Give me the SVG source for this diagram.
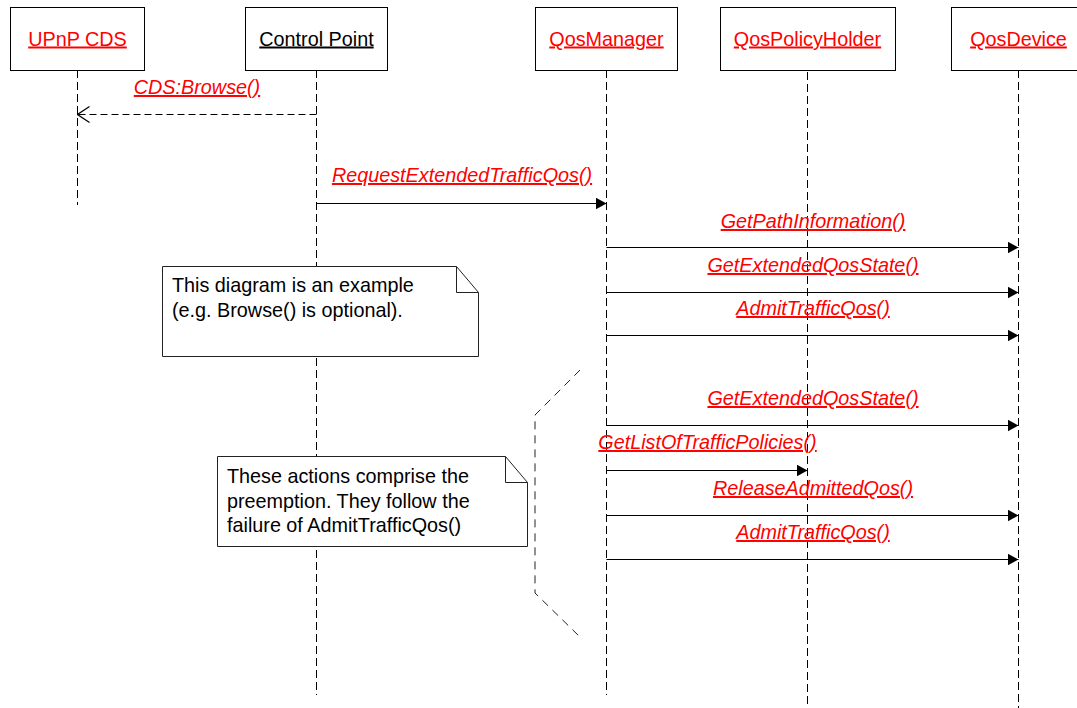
<svg xmlns="http://www.w3.org/2000/svg" width="1077" height="708" viewBox="0 0 1077 708">
<style>
.box{fill:#fff;stroke:#000;stroke-width:1}
.lbl{font-family:"Liberation Sans",Arial,sans-serif;font-size:19.8px;text-anchor:middle;text-decoration:underline}
.red{fill:#ff0000}
.blk{fill:#000}
.msg{font-family:"Liberation Sans",Arial,sans-serif;font-size:19.8px;font-style:italic;text-anchor:middle;text-decoration:underline;fill:#ff0000}
.life{stroke:#000;stroke-width:1;stroke-dasharray:8,4;fill:none}
.call{stroke:#000;stroke-width:1;fill:none;marker-end:url(#filled)}
.reply{stroke:#000;stroke-width:1;fill:none;stroke-dasharray:7,4;marker-end:url(#open)}
.note{fill:#fff;stroke:#222;stroke-width:1}
.fold{fill:none;stroke:#222;stroke-width:1}
.ntxt{font-family:"Liberation Sans",Arial,sans-serif;font-size:19.8px;fill:#000}
.brk{fill:none;stroke:#222;stroke-width:1;stroke-dasharray:8,6}
</style>
<defs>
<marker id="filled" markerUnits="userSpaceOnUse" viewBox="0 0 11 12" refX="11" refY="6" markerWidth="11" markerHeight="12" orient="auto">
<path d="M0,0 L11,6 L0,12 Z" fill="#000"/>
</marker>
<marker id="open" markerUnits="userSpaceOnUse" viewBox="0 0 14 20" refX="13" refY="10" markerWidth="14" markerHeight="20" orient="auto">
<path d="M1,2 L13,10 L1,18" fill="none" stroke="#000" stroke-width="1.2" stroke-dasharray="none"/>
</marker>
</defs>
<rect width="1077" height="708" fill="#fff"/>

<g id="lifelines">
<line class="life" x1="77.5" y1="70" x2="77.5" y2="205"/>
<line class="life" x1="316.5" y1="70" x2="316.5" y2="695"/>
<line class="life" x1="606.5" y1="70" x2="606.5" y2="695"/>
<line class="life" x1="807.5" y1="72" x2="807.5" y2="708"/>
<line class="life" x1="1018.5" y1="70" x2="1018.5" y2="708"/>
</g>

<g id="node-upnp-cds">
<rect class="box" x="10.5" y="7.5" width="134" height="63"/>
<text class="lbl red" x="77.5" y="45.5">UPnP CDS</text>
</g>
<g id="node-control-point">
<rect class="box" x="245.5" y="7.5" width="142" height="63"/>
<text class="lbl blk" x="316.5" y="45.5">Control Point</text>
</g>
<g id="node-qosmanager">
<rect class="box" x="535.5" y="7.5" width="142" height="63"/>
<text class="lbl red" x="606.5" y="45.5">QosManager</text>
</g>
<g id="node-qospolicyholder">
<rect class="box" x="720.5" y="7.5" width="175" height="63"/>
<text class="lbl red" x="807.5" y="45.5">QosPolicyHolder</text>
</g>
<g id="node-qosdevice">
<rect class="box" x="951.5" y="7.5" width="134" height="63"/>
<text class="lbl red" x="1018.5" y="45.5">QosDevice</text>
</g>

<g id="note-example">
<path class="note" d="M162.5,266.5 H456.5 L478.5,292.5 V356.5 H162.5 Z"/>
<path class="fold" d="M456.5,266.5 V292.5 H478.5"/>
<text class="ntxt" x="172" y="292">This diagram is an example</text>
<text class="ntxt" x="172" y="316.5">(e.g. Browse() is optional).</text>
</g>

<g id="note-preemption">
<path class="note" d="M217.5,456.5 H505.5 L527.5,482.5 V546.5 H217.5 Z"/>
<path class="fold" d="M505.5,456.5 V482.5 H527.5"/>
<text class="ntxt" x="227" y="483">These actions comprise the</text>
<text class="ntxt" x="227" y="507.5">preemption. They follow the</text>
<text class="ntxt" x="227" y="532">failure of AdmitTrafficQos()</text>
</g>

<g id="preemption-bracket">
<polyline class="brk" points="580,370 535,415 535,593 580,637"/>
</g>

<g id="connectors">
<line class="reply" x1="316.5" y1="114.5" x2="77.5" y2="114.5"/>
<text class="msg" x="197" y="94">CDS:Browse()</text>

<line class="call" x1="316.5" y1="203.5" x2="606.5" y2="203.5"/>
<text class="msg" x="462" y="182">RequestExtendedTrafficQos()</text>

<line class="call" x1="606.5" y1="247.5" x2="1018.5" y2="247.5"/>
<text class="msg" x="813" y="228">GetPathInformation()</text>

<line class="call" x1="606.5" y1="292.5" x2="1018.5" y2="292.5"/>
<text class="msg" x="813" y="272">GetExtendedQosState()</text>

<line class="call" x1="606.5" y1="335.5" x2="1018.5" y2="335.5"/>
<text class="msg" x="813" y="315">AdmitTrafficQos()</text>

<line class="call" x1="606.5" y1="425.5" x2="1018.5" y2="425.5"/>
<text class="msg" x="813" y="405">GetExtendedQosState()</text>

<line class="call" x1="606.5" y1="470.5" x2="807.5" y2="470.5"/>
<text class="msg" x="707.5" y="449">GetListOfTrafficPolicies()</text>

<line class="call" x1="606.5" y1="515.5" x2="1018.5" y2="515.5"/>
<text class="msg" x="813" y="495">ReleaseAdmittedQos()</text>

<line class="call" x1="606.5" y1="559.5" x2="1018.5" y2="559.5"/>
<text class="msg" x="813" y="539">AdmitTrafficQos()</text>
</g>
</svg>
